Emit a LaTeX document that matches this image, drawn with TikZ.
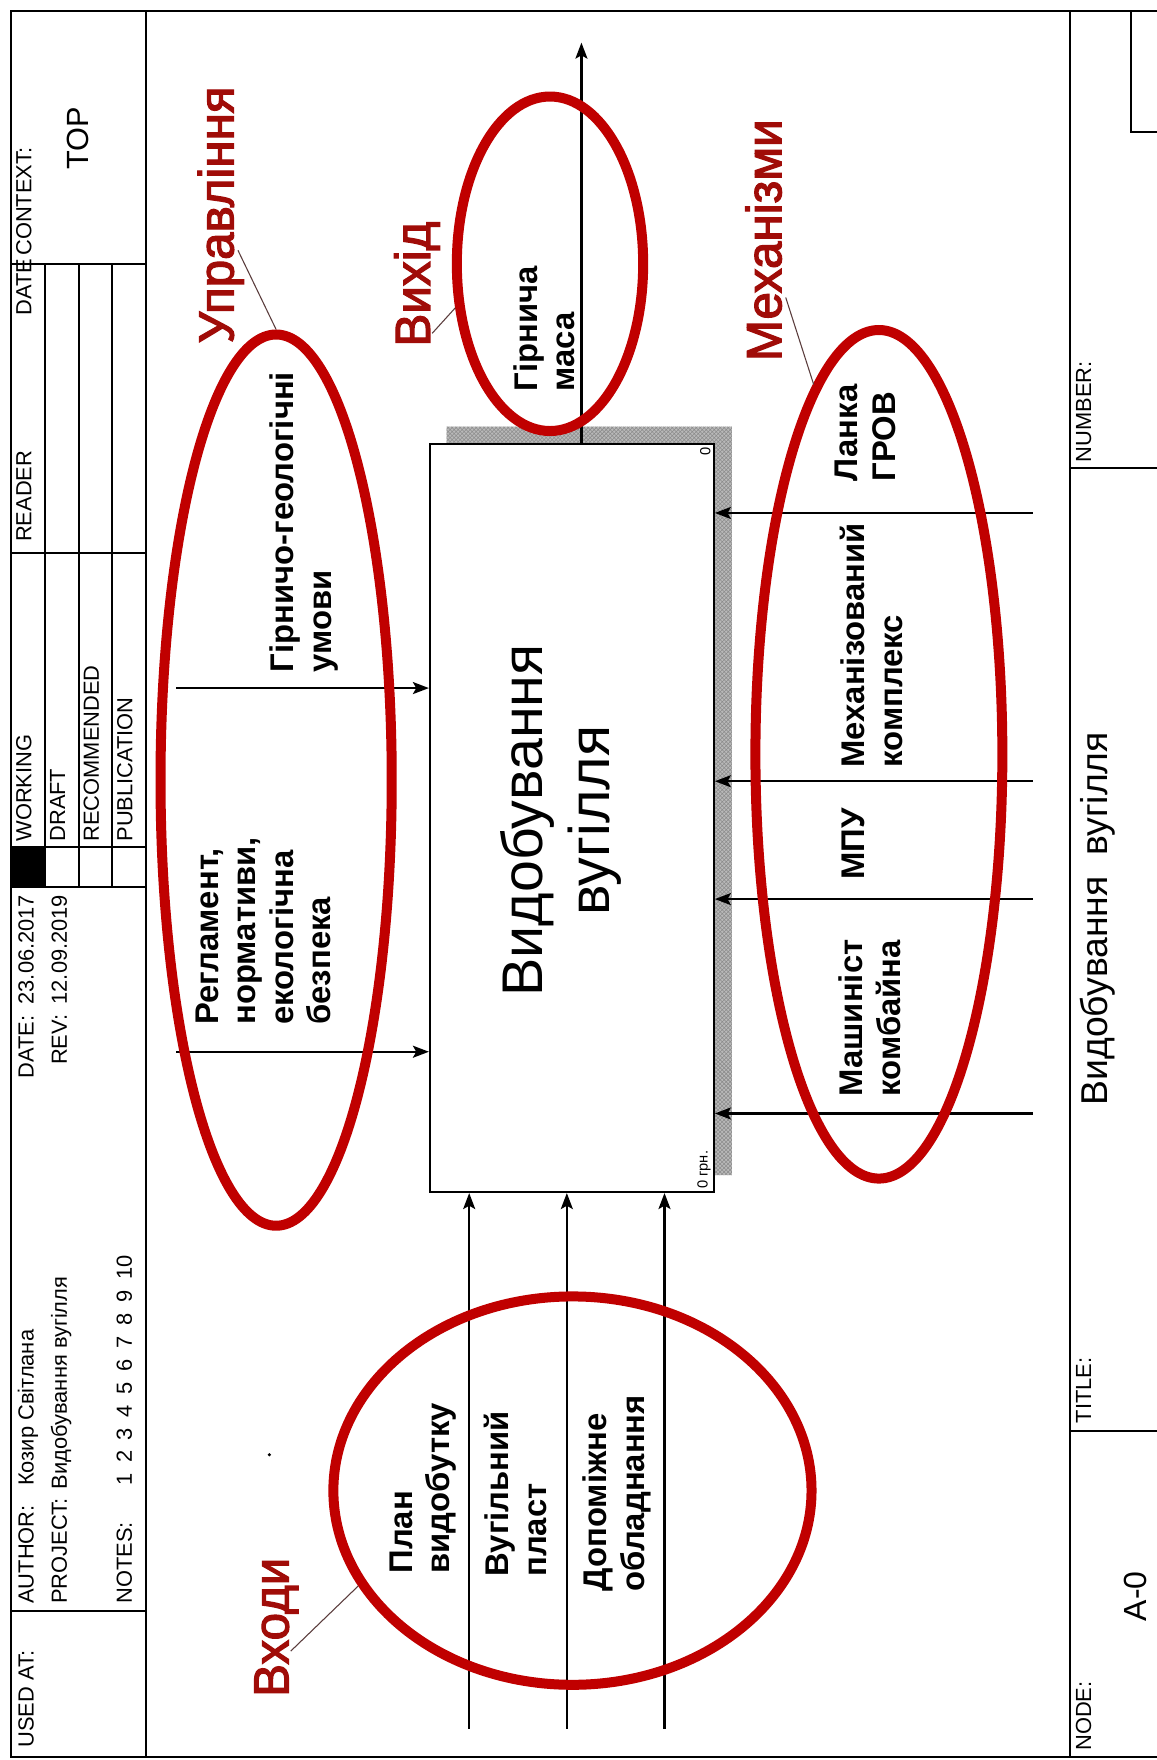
\documentclass[tikz,border=0pt]{standalone}
\usepackage{fontspec}
\setmainfont{Liberation Sans}
\newfontfamily\redfont[FakeBold=2.5]{Liberation Sans}
\usetikzlibrary{arrows.meta,shapes.geometric,patterns}
\definecolor{redE}{RGB}{192,0,0}
\definecolor{redT}{RGB}{160,12,8}
\definecolor{leadc}{RGB}{90,60,60}
\newcommand\pxu{0.8417pt}
\begin{document}
\begin{tikzpicture}[x=0.8417pt,y=-0.8417pt,
  frm/.style={font=\fontsize{16.4}{19}\selectfont, rotate=90, anchor=base west, inner sep=0},
  lbl/.style={font=\bfseries\fontsize{24.6}{28.2}\selectfont, rotate=90, align=left, anchor=north west, inner sep=0},
  redlbl/.style={text=redT, font=\redfont\fontsize{37}{40}\selectfont, rotate=90, anchor=base west, inner sep=0},
  hl/.style={ellipse, draw=redE, line width=7.5pt, inner sep=0},
  arr/.style={line width=1.6pt, -{Stealth[length=12pt,width=9pt,inset=2.5pt]}},
  lead/.style={draw=leadc, line width=0.8pt},
  frame/.style={line width=1.5pt}
]
\useasboundingbox (0,0) rectangle (1030,1568);
\fill[white] (0,0) rectangle (1030,1568);

% ---------- frame ----------
\draw[frame] (10,10) rectangle (1034,1565);
\draw[frame] (130,10) -- (130,1565);
\draw[frame] (953,10) -- (953,1565);
\foreach \y in {235,493,755,790,1435} \draw[frame] (10,\y) -- (130,\y);
\foreach \x in {40,70,100} \draw[frame] (\x,235) -- (\x,790);
\fill (10,755) rectangle (40,790);
\draw[frame] (953,417) -- (1034,417);
\draw[frame] (953,1275) -- (1034,1275);
\draw[frame] (1008,10) -- (1008,118) -- (1034,118);

\node[frm] (fUsed) at (30,1557) {USED AT:};
\node[frm] (fAuth) at (30,1429) {AUTHOR:};
\node[frm] (fAuthV) at (30,1324) {Козир Світлана};
\node[frm] (fProj) at (59.5,1429) {PROJECT:};
\node[frm] (fProjV) at (59.5,1327) {Видобування вугілля};
\node[frm] (fNotes) at (117.5,1429) {NOTES:};
\node[frm] (fNotesV) at (117.5,1324) {1\hspace{0.49em}2\hspace{0.49em}3\hspace{0.49em}4\hspace{0.49em}5\hspace{0.49em}6\hspace{0.49em}7\hspace{0.49em}8\hspace{0.49em}9\hspace{0.49em}10};
\node[frm] (fDate) at (30,961) {DATE:};
\node[frm] (fDateV) at (30,895) {23.06.2017};
\node[frm] (fRev) at (59.5,949) {REV:};
\node[frm] (fRevV) at (59.5,895) {12.09.2019};
\node[frm] (fWork) at (28,750) {WORKING};
\node[frm] (fDraft) at (58,750) {DRAFT};
\node[frm] (fRec) at (88,750) {RECOMMENDED};
\node[frm] (fPub) at (118,750) {PUBLICATION};
\node[frm] (fReader) at (28,483) {READER};
\node[frm] (fDateH) at (28,281) {DATE};
\node[frm] (fCtx) at (28,228) {CONTEXT:};
\node[frm, anchor=center, font=\fontsize{23}{27}\selectfont] (fTop) at (69,123) {TOP};

\node[frm] (fNum) at (972,412) {NUMBER:};
\node[frm] (fTitle) at (972,1268) {TITLE:};
\node[frm] (fNode) at (972,1560) {NODE:};
\node[rotate=90, font=\fontsize{28}{32}\selectfont, anchor=base west, inner sep=0] (fTitleV) at (987,985) {Видобування\ \ вугілля};
\node[rotate=90, font=\fontsize{24}{28}\selectfont, anchor=center, inner sep=0] (fNodeV) at (1012,1422) {A-0};

% ---------- activity box ----------
\fill[gray!55] (398,380) -- (652,380) -- (652,1047) -- (636,1047) -- (636,396) -- (398,396) -- cycle;
\fill[pattern=crosshatch, pattern color=black!45] (398,380) -- (652,380) -- (652,1047) -- (636,1047) -- (636,396) -- (398,396) -- cycle;
\node[draw, line width=1.5pt, fill=white, minimum width={253*\pxu}, minimum height={666*\pxu}, inner sep=0] (box) at (509.5,729) {};
\node[rotate=90, font=\fontsize{43}{50.5}\selectfont, align=center, inner sep=0] (boxt) at (500,731) {Видобування\\вугілля};
\node[rotate=90, font=\fontsize{11}{12}\selectfont, anchor=south east, inner sep=3pt] (bnum) at (box.north east) {0};
\node[rotate=90, font=\fontsize{11}{12}\selectfont, anchor=south west, inner sep=3pt] (bcost) at (box.south east) {0 грн.};

% ---------- arrows ----------
\coordinate (o1) at (518,38);
\draw[arr] (o1 |- box.north) -- (o1);
\coordinate (c1) at (157,613);
\coordinate (c2) at (157,937);
\draw[arr] (c1) -- (c1 -| box.west);
\draw[arr] (c2) -- (c2 -| box.west);
\coordinate (i1) at (418,1540);
\coordinate (i2) at (505,1540);
\coordinate (i3) at (592,1540);
\draw[arr] (i1) -- (i1 |- box.south);
\draw[arr] (i2) -- (i2 |- box.south);
\draw[arr] (i3) -- (i3 |- box.south);
\coordinate (m1) at (920,457);
\coordinate (m2) at (920,696);
\coordinate (m3) at (920,801);
\coordinate (m4) at (920,992);
\draw[arr] (m1) -- (m1 -| box.east);
\draw[arr] (m2) -- (m2 -| box.east);
\draw[arr] (m3) -- (m3 -| box.east);
\draw[arr] (m4) -- (m4 -| box.east);

% ---------- arrow labels ----------
\node[lbl] (lc1) at (240.5,599) {Гірничо-геологічні\\умови};
\node[lbl] (lc2) at (174,913) {Регламент,\\нормативи,\\екологічна\\безпека};
\node[lbl] (lo) at (457,349) {Гірнича\\маса};
\node[lbl] (lm1) at (744,429) {Ланка\\ГРОВ};
\node[lbl] (lm2) at (748.5,684) {Механізований\\комплекс};
\node[lbl] (lm3) at (750,784) {МПУ};
\node[lbl] (lm4) at (747,977) {Машиніст\\комбайна};
\node[lbl] (li1) at (347,1402) {План\\видобутку};
\node[lbl] (li2) at (431,1405) {Вугільний\\пласт};
\node[lbl] (li3) at (519,1418) {Допоміжне\\обладнання};
\fill (240,1296) circle (1.5);

% ---------- red highlights ----------
\node[hl, minimum width={206*\pxu}, minimum height={794*\pxu}] (ctrlE) at (246,695) {};
\node[hl, minimum width={166*\pxu}, minimum height={298*\pxu}] (outE) at (490,235) {};
\node[hl, minimum width={220*\pxu}, minimum height={756*\pxu}] (mechE) at (783,672) {};
\node[hl, minimum width={426*\pxu}, minimum height={346*\pxu}] (inE) at (510,1328) {};

\node[redlbl] (rC) at (208,306) {Управління};
\node[redlbl] (rO) at (383,309) {Вихід};
\node[redlbl] (rM) at (696,322) {Механізми};
\node[redlbl] (rI) at (257,1512) {Входи};

\coordinate (rCa) at (212,223);
\coordinate (rOa) at (385,297);
\coordinate (rMa) at (700,265);
\coordinate (rIa) at (259,1471);
\draw[lead] (rCa) -- (ctrlE.north);
\draw[lead] (rOa) -- (outE.205);
\draw[lead] (rMa) -- (mechE.100);
\draw[lead] (rIa) -- (inE.204);
\end{tikzpicture}
\end{document}
